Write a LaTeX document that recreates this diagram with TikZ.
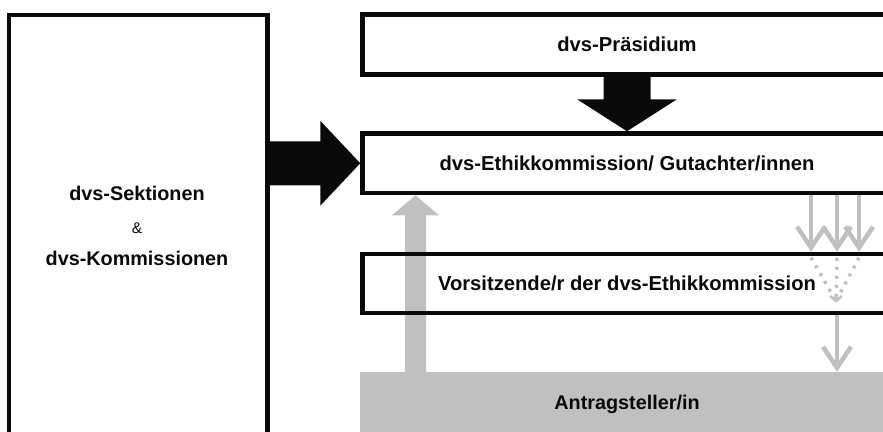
\documentclass[tikz,border=0pt]{standalone}
\usepackage{fontspec}
\setmainfont{Liberation Sans}
\usetikzlibrary{calc,arrows.meta}
\definecolor{lgray}{RGB}{192,192,192}
\definecolor{ink}{RGB}{10,10,10}
\begin{document}
\begin{tikzpicture}[x=1pt,y=-1pt,
  box/.style={draw=ink, line width=4.5pt, minimum width=529pt, inner sep=0pt,
    font=\fontsize{20.2}{22}\selectfont\bfseries, text=ink},
  lbl/.style={inner sep=0pt, font=\fontsize{19.8}{22}\selectfont\bfseries, text=ink},
  band/.style={fill=lgray, draw=none, minimum width=534pt, minimum height=64pt,
    inner sep=0pt, font=\fontsize{19.8}{22}\selectfont\bfseries, text=ink},
  thin/.style={draw=lgray, line width=4.5pt, -{Straight Barb[length=21pt,width=28pt]}},
  dots/.style={draw=lgray, line width=3.5pt, dash pattern=on 3pt off 6pt}
]
\useasboundingbox (0,0) rectangle (883,431);
\clip (0,0) rectangle (883,431);

% grey band
\node[band] (antrag) at (627,404) {Antragsteller/in};

% left box
\node[draw=ink, line width=4.5pt, minimum width=258.5pt, minimum height=424pt, inner sep=0pt]
  (sek) at (138.25,227) {};
\node[lbl] (t1) at (137,193) {dvs-Sektionen};
\node[inner sep=0pt, font=\fontsize{15.5}{17}\selectfont, text=ink] (t2) at (137,228) {\&};
\node[lbl] (t3) at (137,258) {dvs-Kommissionen};

% boxes
\node[box, minimum height=60pt] (praes) at (627,44.5) {dvs-Präsidium};
\node[box, minimum height=59.5pt] (ethik) at (627,163.25) {dvs-Ethikkommission/ Gutachter/innen};
\node[box, minimum height=59pt] (vors) at (627,283.5) {Vorsitzende/r der dvs-Ethikkommission};

% helper x positions
\coordinate (upx) at (415.5,0);
\coordinate (a1) at (811,0);
\coordinate (a2) at (837,0);
\coordinate (a3) at (859,0);
\coordinate (conv) at (836,301);

% grey up arrow (band -> ethik)
\fill[lgray] ($(upx |- antrag.north)+(-10.5,1)$) -- ($(upx |- ethik.south)+(-10.5,20)$)
  -- ($(upx |- ethik.south)+(-23.5,20)$) -- (upx |- ethik.south)
  -- ($(upx |- ethik.south)+(23.5,20)$) -- ($(upx |- ethik.south)+(10.5,20)$)
  -- ($(upx |- antrag.north)+(10.5,1)$) -- cycle;

% three thin grey arrows ethik -> vors
\draw[thin] (a1 |- ethik.south) -- (a1 |- vors.north);
\draw[thin] (a2 |- ethik.south) -- (a2 |- vors.north);
\draw[thin] (a3 |- ethik.south) -- (a3 |- vors.north);

% dotted convergence inside vors
\draw[dots] ($(a1 |- vors.north)+(0,6)$) -- (conv);
\draw[dots] ($(a2 |- vors.north)+(0,6)$) -- (conv);
\draw[dots] ($(a3 |- vors.north)+(0,6)$) -- (conv);
\draw[lgray, line width=2.5pt] ($(conv)+(-6,-5)$) -- (conv) -- ($(conv)+(6,-5)$);

% vors -> band
\draw[thin] (a2 |- vors.south) -- (a2 |- antrag.north);

% redraw box borders over grey lines
\node[box, minimum height=60pt] at (praes) {};
\node[box, minimum height=59.5pt] at (ethik) {};
\node[box, minimum height=59pt] at (vors) {};

% black down arrow praes -> ethik
\fill[ink] ($(praes.south)+(-23.5,-2)$) -- ($(praes.south)+(23.5,-2)$)
  -- ($(ethik.north)+(23.5,-32)$) -- ($(ethik.north)+(50,-32)$) -- (ethik.north)
  -- ($(ethik.north)+(-50,-32)$) -- ($(ethik.north)+(-23.5,-32)$) -- cycle;

% black right arrow sek -> ethik
\fill[ink] ($(sek.east |- ethik.west)+(-2,-22)$) -- ($(ethik.west)+(-40,-22)$)
  -- ($(ethik.west)+(-40,-42.5)$) -- (ethik.west) -- ($(ethik.west)+(-40,42.5)$)
  -- ($(ethik.west)+(-40,22)$) -- ($(sek.east |- ethik.west)+(-2,22)$) -- cycle;
\end{tikzpicture}
\end{document}
